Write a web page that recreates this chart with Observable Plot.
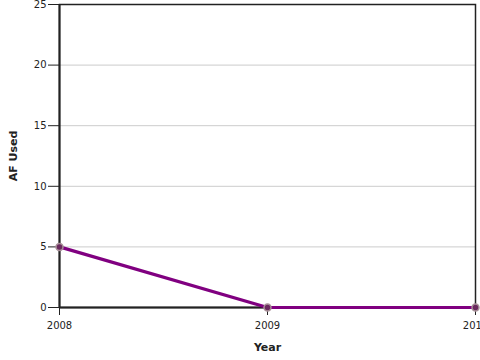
<!DOCTYPE html>
<html>
<head>
<meta charset="utf-8">
<script src="https://cdn.jsdelivr.net/npm/d3@7"></script>
<script src="https://cdn.jsdelivr.net/npm/@observablehq/plot@0.6"></script>
<style>
  html, body { margin: 0; padding: 0; background: #fff; }
  #chart svg { display: block; overflow: hidden; }
</style>
</head>
<body>
<div id="chart"></div>
<script>
const years = [2008, 2009, 2010];
const afUsed = [5, 0, 0];
const yTicks = [0, 5, 10, 15, 20, 25];
const xTicks = [2008, 2009, 2010];

const data = years.map((y, i) => ({year: y, value: afUsed[i]}));

const chart = Plot.plot({
  width: 480,
  height: 360,
  marginLeft: 59,
  marginRight: 5,
  marginTop: 4,
  marginBottom: 53,
  style: {fontFamily: "DejaVu Sans", fontSize: "10px", color: "#222", background: "#fff", overflow: "hidden"},
  x: {domain: [2008, 2010]},
  y: {domain: [0, 25]},
  marks: [
    Plot.gridY(yTicks.filter(d => d > 0), {stroke: "#ccc", strokeOpacity: 1, strokeWidth: 1}),
    Plot.frame({stroke: "#222", strokeWidth: 1.5}),
    Plot.ruleY([0], {stroke: "#222", strokeWidth: 2}),
    Plot.ruleX([2008], {stroke: "#222", strokeWidth: 2}),
    Plot.axisX({ticks: xTicks, tickFormat: d => String(d), tickSize: 8, tickPadding: 6, stroke: "#222", label: "Year", labelAnchor: "center", labelArrow: "none", labelOffset: 43, fontSize: 10}),
    Plot.axisY({ticks: yTicks, tickSize: 11, tickPadding: 2, stroke: "#222", label: "AF Used", labelAnchor: "center", labelArrow: "none", labelOffset: 50, fontSize: 10}),
    Plot.line(data, {x: "year", y: "value", stroke: "#800080", strokeWidth: 3.2}),
    Plot.dot(data, {x: "year", y: "value", r: 3.5, fill: "#6a2a5e", stroke: "#a89098", strokeWidth: 1.5})
  ]
});
document.getElementById("chart").appendChild(chart);
chart.querySelectorAll("g[aria-label='x-axis label'] text, g[aria-label='y-axis label'] text").forEach(t => {
  t.setAttribute("font-weight", "bold");
  t.setAttribute("font-size", "11");
});
</script>
</body>
</html>
